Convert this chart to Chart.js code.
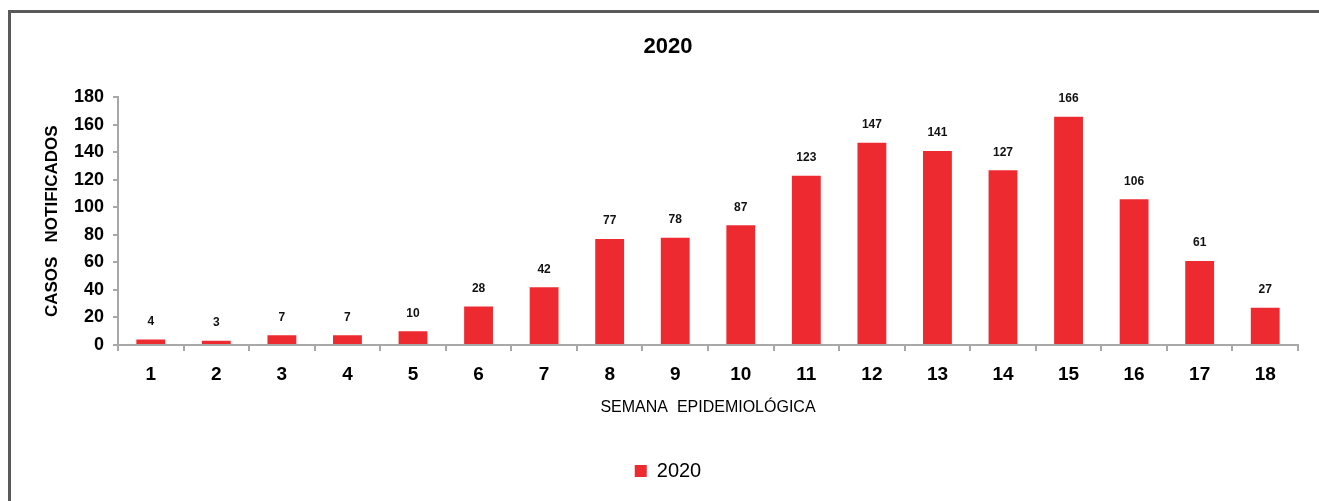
<!DOCTYPE html>
<html>
<head>
<meta charset="utf-8">
<script src="https://cdn.jsdelivr.net/npm/chart.js@4/dist/chart.umd.min.js"></script>
<style>
  body { margin:0; background:#fff; overflow:hidden; }
  #marco { position:absolute; left:8px; top:10px; width:1400px; height:600px; border:3px solid #5a5a5a; box-sizing:border-box; }
  #myChart { position:absolute; left:0; top:0; }
</style>
</head>
<body>
<div id="marco"></div>
<canvas id="myChart" width="1319" height="501"></canvas>
<script>
var semanas = ["1","2","3","4","5","6","7","8","9","10","11","12","13","14","15","16","17","18"];
var casos = [4,3,7,7,10,28,42,77,78,87,123,147,141,127,166,106,61,27];
var yTicks = [0,20,40,60,80,100,120,140,160,180];
var barColor = "#ee2a31";
var fuente = 'Arial, "Liberation Sans", sans-serif';

// etiquetas encima de cada barra
const etiquetas = {
  id: "etiquetas",
  afterDatasetsDraw(chart) {
    const ctx = chart.ctx;
    const meta = chart.getDatasetMeta(0);
    ctx.save();
    ctx.font = "bold 12px " + fuente;
    ctx.fillStyle = "#111";
    ctx.textAlign = "center";
    ctx.textBaseline = "middle";
    meta.data.forEach(function (bar, i) {
      ctx.fillText(casos[i], bar.x, bar.y - 18);
    });
    ctx.restore();
  }
};

new Chart("myChart", {
  type: "bar",
  data: {
    labels: semanas,
    datasets: [{
      label: "2020",
      backgroundColor: barColor,
      data: casos,
      barPercentage: 0.44,
      categoryPercentage: 1
    }]
  },
  options: {
    responsive: false,
    animation: false,
    layout: { padding: { left: 38, right: 21, top: 34, bottom: 10 } },
    plugins: {
      title: {
        display: true,
        text: "2020",
        color: "#000",
        font: { family: fuente, size: 22, weight: "bold" },
        padding: { top: 0, bottom: 37 }
      },
      legend: {
        display: true,
        position: "bottom",
        labels: {
          color: "#000",
          font: { family: fuente, size: 20 },
          boxWidth: 12,
          boxHeight: 12,
          padding: 10
        }
      },
      tooltip: { enabled: false }
    },
    scales: {
      x: {
        afterFit: function (s) { s.height = 106; },
        grid: { display: true, drawOnChartArea: false, offset: true, tickLength: 6, color: "#a8a8a8", lineWidth: 2 },
        border: { color: "#a8a8a8", width: 2 },
        ticks: { color: "#000", font: { family: fuente, size: 19, weight: "bold" }, padding: 12 },
        title: {
          display: true,
          text: "SEMANA  EPIDEMIOLÓGICA",
          color: "#000",
          font: { family: fuente, size: 16 },
          padding: { top: 0, bottom: 34 }
        }
      },
      y: {
        min: 0,
        max: 180,
        afterFit: function (s) { s.width = 80; },
        afterBuildTicks: function (s) { s.ticks = yTicks.map(function (v) { return { value: v }; }); },
        grid: { display: true, drawOnChartArea: false, tickLength: 5, color: "#a8a8a8", lineWidth: 2 },
        border: { color: "#a8a8a8", width: 2 },
        ticks: { color: "#000", font: { family: fuente, size: 18, weight: "bold" }, padding: 9 },
        title: {
          display: true,
          text: "CASOS   NOTIFICADOS",
          color: "#000",
          font: { family: fuente, size: 17, weight: "bold" },
          padding: { top: 4, bottom: 0 }
        }
      }
    }
  },
  plugins: [etiquetas]
});
</script>
</body>
</html>
